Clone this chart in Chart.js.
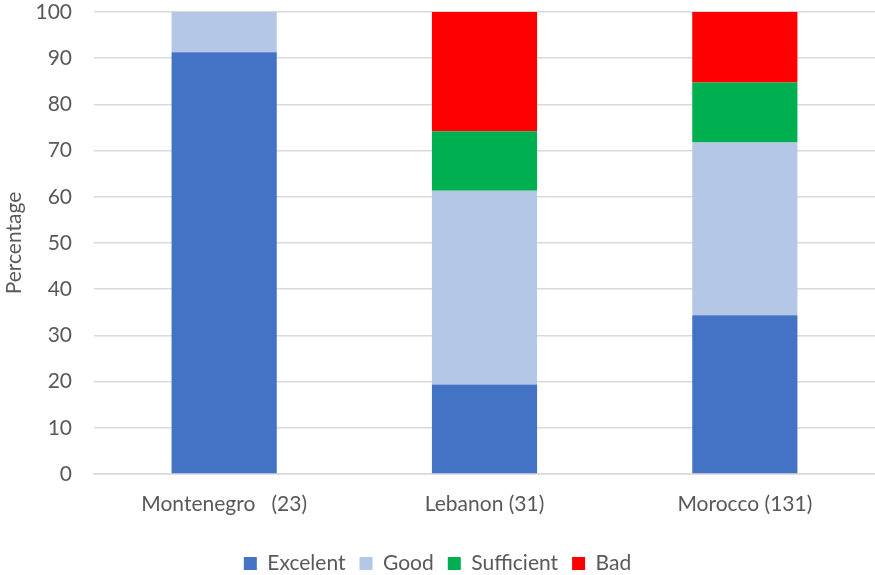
<!DOCTYPE html>
<html lang="en">
<head>
  <meta charset="utf-8">
  <title>Percentage by country</title>
  <script src="https://cdn.jsdelivr.net/npm/chart.js"></script>
  <style>
    html, body { margin: 0; padding: 0; background: #fff; }
    #wrap { width: 875px; height: 575px; }
  </style>
</head>
<body>
  <div id="wrap"><canvas id="chart"></canvas></div>
  <script>
    const categories = ['Montenegro   (23)', 'Lebanon (31)', 'Morocco (131)'];
    const excelent = [91.3, 19.35, 34.35];
    const good = [8.7, 41.94, 37.41];
    const sufficient = [0, 12.9, 12.98];
    const bad = [0, 25.81, 15.27];
    const yTicks = [0, 10, 20, 30, 40, 50, 60, 70, 80, 90, 100];

    const fontFamily = 'Lato, "Open Sans", sans-serif';
    const textColor = '#595959';
    const fontSize = 21;

    function ds(label, data, color) {
      return {
        label: label,
        data: data,
        backgroundColor: color,
        borderWidth: 0,
        barPercentage: 0.404,
        categoryPercentage: 1.0
      };
    }

    new Chart(document.getElementById('chart'), {
      type: 'bar',
      data: {
        labels: categories,
        datasets: [
          ds('Excelent', excelent, '#4472C4'),
          ds('Good', good, '#B4C7E7'),
          ds('Sufficient', sufficient, '#00B050'),
          ds('Bad', bad, '#FF0000')
        ]
      },
      options: {
        responsive: true,
        maintainAspectRatio: false,
        animation: false,
        layout: { padding: { left: 0, right: 0, top: 12, bottom: -9 } },
        plugins: {
          tooltip: { enabled: false },
          legend: {
            position: 'bottom',
            labels: {
              boxWidth: 13,
              boxHeight: 13,
              padding: 14,
              color: textColor,
              font: { family: fontFamily, size: fontSize }
            }
          }
        },
        scales: {
          x: {
            stacked: true,
            grid: { display: false },
            border: { color: '#d9d9d9', width: 1.5 },
            ticks: { color: textColor, font: { family: fontFamily, size: fontSize }, padding: 10 },
            afterFit: function (axis) {
              axis.height = 65;
            }
          },
          y: {
            stacked: true,
            min: 0,
            max: 100,
            afterBuildTicks: function (axis) {
              axis.ticks = yTicks.map(v => ({ value: v }));
            },
            afterFit: function (axis) {
              // let the top label hang over the canvas edge like the original
              axis.paddingTop = 0;
              axis.paddingBottom = 0;
              axis.width = 94;
            },
            grid: { color: '#d9d9d9', lineWidth: 1.5, drawTicks: false },
            border: { display: false },
            ticks: { color: textColor, font: { family: fontFamily, size: fontSize }, padding: 22 },
            title: {
              display: true,
              text: 'Percentage',
              color: textColor,
              font: { family: fontFamily, size: fontSize },
              padding: { top: 2, bottom: 4 }
            }
          }
        }
      }
    });
  </script>
</body>
</html>
